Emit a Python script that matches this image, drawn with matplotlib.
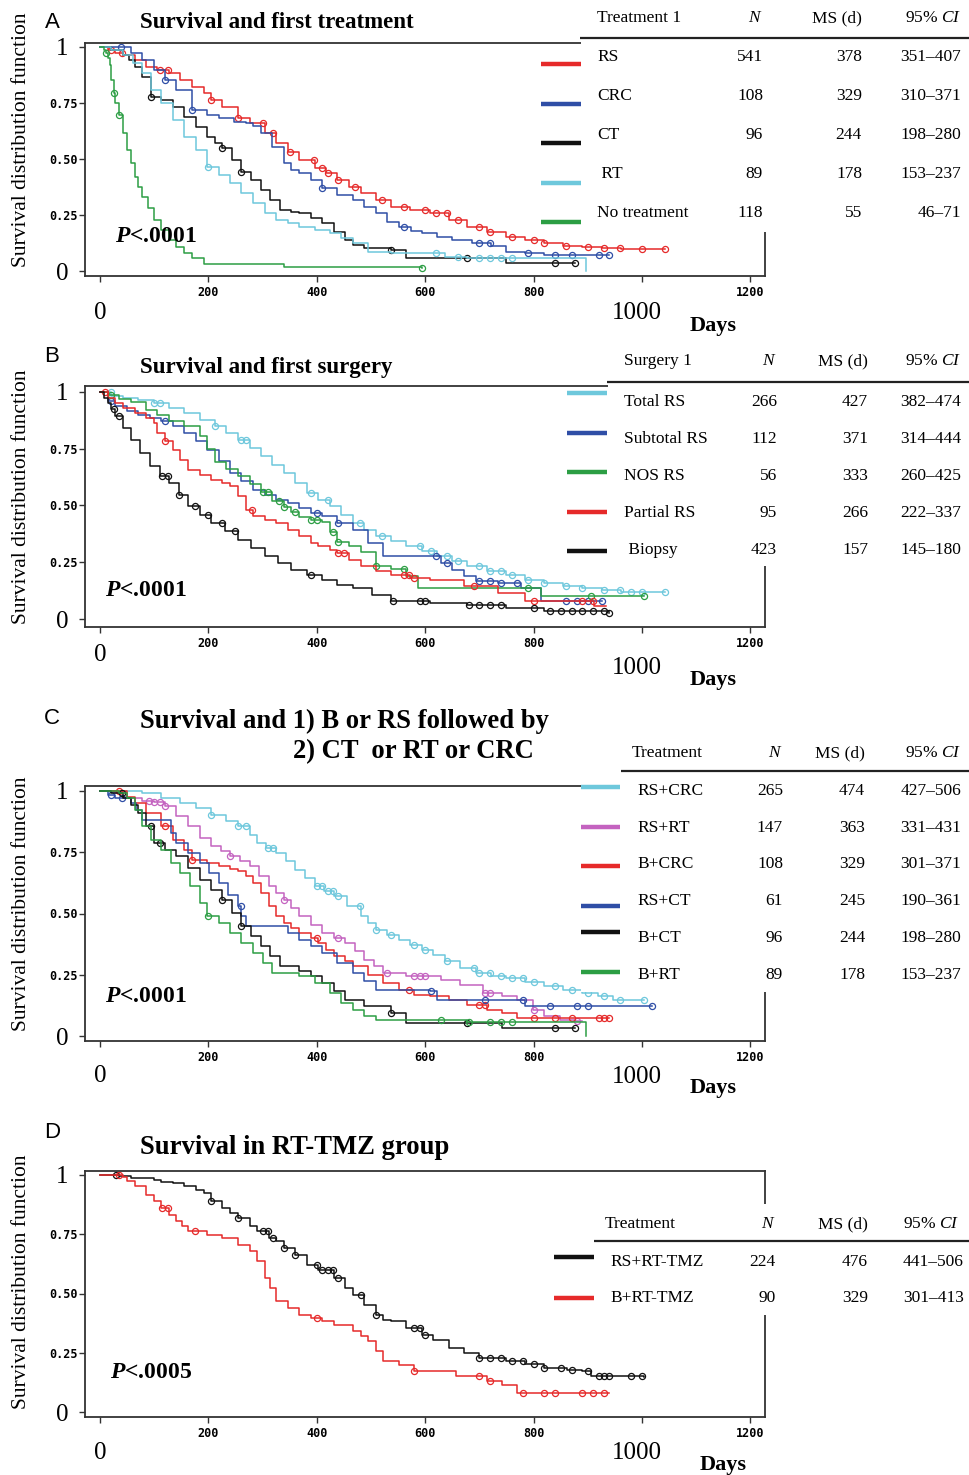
import numpy as np
import matplotlib
matplotlib.use("Agg")
import matplotlib.pyplot as plt
from matplotlib.patches import Rectangle
from matplotlib.lines import Line2D

plt.rcParams["mathtext.fontset"] = "custom"
plt.rcParams["mathtext.rm"] = "Liberation Serif"
plt.rcParams["mathtext.it"] = "Liberation Serif:italic"
plt.rcParams["mathtext.bf"] = "Liberation Serif:bold"
plt.rcParams["mathtext.sf"] = "Liberation Serif:bold:italic"

SERIF = "Liberation Serif"
SANS = "Liberation Sans"
MONO = "DejaVu Sans Mono"

RED = "#e62a2a"
BLUE = "#2f4ea6"
BLACK = "#111111"
CYAN = "#6ec8dc"
GREEN = "#2c9e44"
MAGENTA = "#c463c0"

# ------------------------------------------------------------------ data
X_TICKS = [0, 200, 400, 600, 800, 1000, 1200]
X_TICK_LABELS = ["", "200", "400", "600", "800", "", "1200"]
Y_TICKS = [0, 0.25, 0.5, 0.75, 1.0]
Y_TICK_LABELS = ["", "0.25", "0.50", "0.75", ""]

# ---- Panel A: survival and first treatment
a_rs_t = [0, 14, 28, 42, 64, 85, 106, 127, 148, 170, 191, 205, 226, 254, 276, 304, 325, 346, 367, 396,
          417, 438, 459, 481, 509, 537, 572, 608, 643, 678, 714, 749, 784, 820, 855, 890, 926, 961, 1042]
a_rs_s = [1.0, 0.988, 0.976, 0.966, 0.943, 0.914, 0.899, 0.884, 0.854, 0.824, 0.794, 0.765, 0.735, 0.683,
          0.661, 0.615, 0.571, 0.534, 0.496, 0.459, 0.437, 0.407, 0.377, 0.347, 0.317, 0.288, 0.273, 0.258,
          0.228, 0.198, 0.176, 0.153, 0.139, 0.124, 0.112, 0.106, 0.101, 0.10, 0.10]
a_rs_c = [20, 40, 110, 125, 205, 254, 300, 320, 350, 395, 410, 420, 440, 470, 520, 560, 600, 620, 640, 660,
          700, 720, 760, 800, 820, 860, 900, 930, 960, 1000, 1042]

a_crc_t = [0, 45, 57, 78, 99, 120, 141, 170, 198, 219, 247, 269, 283, 297, 318, 339, 353, 367, 389, 410,
           438, 466, 488, 509, 530, 551, 573, 594, 622, 650, 686, 721, 749, 784, 820, 940]
a_crc_s = [1.0, 1.0, 0.973, 0.943, 0.899, 0.854, 0.809, 0.72, 0.698, 0.683, 0.668, 0.661, 0.646, 0.615,
           0.556, 0.481, 0.452, 0.437, 0.407, 0.37, 0.34, 0.317, 0.288, 0.258, 0.221, 0.198, 0.18, 0.168,
           0.153, 0.139, 0.124, 0.112, 0.086, 0.079, 0.072, 0.072]
a_crc_c = [39, 120, 170, 410, 560, 700, 720, 790, 840, 870, 920, 940]

a_ct_t = [0, 21, 42, 53, 64, 78, 95, 113, 134, 155, 177, 198, 212, 226, 244, 261, 279, 297, 314, 332, 353,
          367, 389, 410, 431, 452, 466, 488, 537, 565, 678, 749, 876]
a_ct_s = [1.0, 0.988, 0.966, 0.943, 0.914, 0.869, 0.78, 0.765, 0.735, 0.69, 0.645, 0.60, 0.571, 0.548,
          0.496, 0.444, 0.407, 0.362, 0.318, 0.273, 0.265, 0.258, 0.236, 0.213, 0.176, 0.139, 0.116, 0.101,
          0.094, 0.057, 0.057, 0.037, 0.037]
a_ct_c = [95, 226, 261, 537, 678, 840, 876]

a_rt_t = [0, 21, 42, 60, 78, 95, 113, 134, 155, 177, 198, 219, 240, 261, 283, 304, 325, 346, 367, 396, 424,
          445, 466, 495, 537, 608, 636, 678, 897, 897]
a_rt_s = [1.0, 0.988, 0.966, 0.928, 0.884, 0.81, 0.75, 0.676, 0.60, 0.541, 0.466, 0.429, 0.392, 0.347,
          0.303, 0.258, 0.228, 0.213, 0.198, 0.183, 0.168, 0.146, 0.124, 0.086, 0.082, 0.079, 0.064, 0.057,
          0.057, 0.0]
a_rt_c = [200, 620, 660, 700, 720, 740, 760]

a_none_t = [0, 7, 11, 14, 18, 21, 25, 28, 35, 42, 49, 57, 64, 71, 78, 88, 99, 113, 127, 141, 155, 170, 191,
            339, 594]
a_none_s = [1.0, 0.988, 0.973, 0.951, 0.922, 0.855, 0.795, 0.75, 0.698, 0.616, 0.541, 0.482, 0.422, 0.377,
            0.333, 0.28, 0.228, 0.183, 0.139, 0.109, 0.079, 0.057, 0.031, 0.019, 0.012]
a_none_c = [11, 25, 35, 594]

a_header = "Treatment 1"
a_labels = ["RS", "CRC", "CT", " RT", "No treatment"]
a_n = ["541", "108", "96", "89", "118"]
a_ms = ["378", "329", "244", "178", "55"]
a_ci = ["351\u2013407", "310\u2013371", "198\u2013280", "153\u2013237", "46\u201371"]
a_pval = ".0001"

# ---- Panel B: survival and first surgery
b_tot_t = [0, 21, 42, 71, 99, 127, 155, 184, 212, 233, 254, 276, 297, 318, 339, 360, 382, 403, 424, 445,
           466, 488, 509, 537, 565, 594, 622, 650, 678, 714, 749, 784, 820, 855, 890, 926, 961, 1042]
b_tot_s = [1.0, 0.981, 0.974, 0.966, 0.952, 0.930, 0.907, 0.877, 0.849, 0.819, 0.79, 0.753, 0.717, 0.68,
           0.643, 0.599, 0.555, 0.526, 0.496, 0.46, 0.423, 0.394, 0.364, 0.342, 0.32, 0.298, 0.276, 0.254,
           0.232, 0.21, 0.195, 0.173, 0.159, 0.147, 0.137, 0.126, 0.117, 0.117]
b_tot_c = [20, 100, 110, 212, 261, 269, 390, 420, 480, 520, 590, 610, 640, 660, 700, 720, 740, 760, 790,
           820, 860, 890, 930, 960, 980, 1000, 1042]

b_sub_t = [0, 14, 28, 49, 71, 92, 113, 134, 155, 177, 198, 219, 240, 261, 283, 304, 325, 346, 367, 389,
           410, 438, 466, 495, 523, 608, 629, 650, 671, 693, 735, 777, 813, 926]
b_sub_s = [1.0, 0.959, 0.937, 0.915, 0.90, 0.885, 0.871, 0.849, 0.819, 0.782, 0.746, 0.694, 0.643, 0.606,
           0.57, 0.548, 0.526, 0.511, 0.489, 0.467, 0.452, 0.423, 0.394, 0.335, 0.276, 0.276, 0.247, 0.217,
           0.188, 0.166, 0.159, 0.137, 0.078, 0.078]
b_sub_c = [20, 120, 400, 440, 620, 640, 700, 720, 740, 770, 860, 880, 900, 926]

b_nos_t = [0, 14, 35, 57, 85, 106, 127, 155, 184, 198, 212, 233, 254, 276, 297, 318, 339, 353, 367, 389,
           410, 424, 438, 459, 481, 509, 537, 565, 587, 813, 1003]
b_nos_s = [1.0, 0.985, 0.971, 0.956, 0.919, 0.897, 0.874, 0.852, 0.808, 0.749, 0.69, 0.661, 0.631, 0.595,
           0.558, 0.521, 0.492, 0.47, 0.448, 0.437, 0.426, 0.382, 0.338, 0.323, 0.294, 0.235, 0.22, 0.191,
           0.137, 0.10, 0.10]
b_nos_c = [20, 300, 310, 330, 340, 360, 390, 400, 430, 440, 510, 560, 790, 905, 1003]

b_par_t = [0, 14, 28, 42, 64, 85, 99, 106, 120, 134, 148, 163, 184, 205, 226, 240, 254, 269, 283, 304, 325,
           346, 367, 389, 403, 424, 438, 459, 481, 509, 537, 572, 608, 671, 735, 784, 912, 933]
b_par_s = [1.0, 0.974, 0.952, 0.93, 0.907, 0.885, 0.863, 0.819, 0.782, 0.746, 0.702, 0.658, 0.636, 0.614,
           0.599, 0.584, 0.540, 0.482, 0.452, 0.438, 0.423, 0.394, 0.364, 0.335, 0.32, 0.305, 0.29, 0.261,
           0.232, 0.21, 0.195, 0.181, 0.173, 0.144, 0.115, 0.078, 0.056, 0.056]
b_par_c = [10, 120, 280, 440, 450, 560, 570, 580, 690, 800, 890, 910]

b_bio_t = [0, 7, 14, 21, 28, 42, 57, 74, 92, 110, 127, 145, 163, 184, 205, 230, 254, 279, 304, 329, 353,
           382, 410, 438, 466, 502, 537, 608, 678, 749, 820, 940]
b_bio_s = [1.0, 0.974, 0.952, 0.923, 0.893, 0.842, 0.79, 0.731, 0.673, 0.629, 0.599, 0.548, 0.496, 0.46,
           0.423, 0.386, 0.349, 0.313, 0.276, 0.247, 0.217, 0.195, 0.173, 0.151, 0.137, 0.107, 0.078, 0.07,
           0.063, 0.048, 0.034, 0.026]
b_bio_c = [25, 35, 115, 125, 145, 175, 200, 225, 250, 390, 540, 590, 600, 680, 700, 720, 740, 800, 830,
           850, 870, 890, 910, 930, 940]

b_header = "Surgery 1"
b_labels = ["Total RS", "Subtotal RS", "NOS RS", "Partial RS", " Biopsy"]
b_n = ["266", "112", "56", "95", "423"]
b_ms = ["427", "371", "333", "266", "157"]
b_ci = ["382\u2013474", "314\u2013444", "260\u2013425", "222\u2013337", "145\u2013180"]
b_pval = ".0001"

# ---- Panel C: B or RS followed by CT / RT / CRC
c_rscrc_t = [0, 42, 78, 113, 148, 177, 205, 233, 254, 276, 290, 307, 325, 343, 360, 378, 396, 413, 431,
             456, 481, 495, 509, 530, 551, 572, 594, 615, 636, 664, 693, 721, 749, 784, 820, 855, 890, 919,
             947, 1003]
c_rscrc_s = [1.0, 0.999, 0.992, 0.971, 0.951, 0.931, 0.903, 0.876, 0.856, 0.822, 0.788, 0.767, 0.747,
             0.713, 0.679, 0.645, 0.611, 0.59, 0.57, 0.529, 0.488, 0.461, 0.434, 0.414, 0.393, 0.373, 0.352,
             0.332, 0.305, 0.278, 0.257, 0.246, 0.237, 0.219, 0.203, 0.189, 0.176, 0.162, 0.148, 0.148]
c_rscrc_c = [205, 254, 270, 310, 320, 400, 410, 420, 430, 440, 480, 509, 537, 580, 600, 640, 690, 700,
             720, 740, 760, 780, 800, 840, 870, 900, 930, 960, 1003]

c_rsrt_t = [0, 28, 49, 78, 99, 120, 141, 163, 184, 205, 223, 240, 258, 276, 293, 311, 325, 339, 353, 367,
            389, 410, 431, 452, 470, 488, 505, 523, 565, 629, 664, 707, 742, 770, 798, 820, 848, 876, 890]
c_rsrt_s = [1.0, 0.992, 0.971, 0.961, 0.957, 0.937, 0.897, 0.856, 0.808, 0.774, 0.754, 0.733, 0.713,
            0.693, 0.652, 0.611, 0.584, 0.556, 0.522, 0.488, 0.454, 0.42, 0.4, 0.38, 0.346, 0.312, 0.284,
            0.257, 0.246, 0.23, 0.209, 0.176, 0.162, 0.148, 0.107, 0.08, 0.067, 0.06, 0.06]
c_rsrt_c = [90, 100, 110, 120, 240, 340, 440, 530, 580, 590, 600, 710, 720, 800, 880]

c_bcrc_t = [0, 35, 49, 64, 85, 113, 134, 155, 170, 198, 219, 240, 254, 269, 283, 297, 311, 325, 339, 353,
            367, 389, 403, 417, 431, 452, 466, 495, 523, 551, 580, 608, 643, 678, 714, 742, 770, 940]
c_bcrc_s = [1.0, 1.0, 0.976, 0.95, 0.91, 0.856, 0.801, 0.761, 0.72, 0.707, 0.693, 0.682, 0.672, 0.652,
            0.624, 0.584, 0.529, 0.488, 0.461, 0.441, 0.42, 0.4, 0.38, 0.352, 0.325, 0.305, 0.284, 0.25,
            0.216, 0.189, 0.169, 0.162, 0.148, 0.128, 0.107, 0.094, 0.073, 0.073]
c_bcrc_c = [35, 120, 170, 400, 570, 700, 710, 800, 840, 870, 920, 930, 940]

c_rsct_t = [0, 14, 28, 57, 67, 78, 124, 131, 141, 163, 184, 201, 219, 237, 254, 261, 269, 325, 346, 367,
            389, 410, 438, 466, 488, 509, 608, 622, 777, 784, 1018]
c_rsct_s = [1.0, 0.982, 0.97, 0.95, 0.923, 0.883, 0.883, 0.829, 0.788, 0.748, 0.707, 0.667, 0.624, 0.577,
            0.529, 0.488, 0.448, 0.448, 0.42, 0.393, 0.366, 0.339, 0.299, 0.257, 0.223, 0.189, 0.182, 0.148,
            0.148, 0.121, 0.121]
c_rsct_c = [20, 40, 260, 610, 710, 780, 830, 880, 900, 1018]

c_bct_t = [0, 21, 42, 57, 71, 85, 99, 120, 141, 163, 184, 205, 226, 244, 261, 279, 297, 314, 332, 367, 389,
           410, 431, 452, 488, 537, 565, 678, 742, 876]
c_bct_s = [1.0, 0.99, 0.971, 0.944, 0.91, 0.856, 0.788, 0.761, 0.733, 0.686, 0.638, 0.597, 0.556, 0.502,
           0.448, 0.407, 0.366, 0.325, 0.284, 0.264, 0.244, 0.216, 0.182, 0.148, 0.121, 0.094, 0.053, 0.053,
           0.033, 0.033]
c_bct_c = [40, 95, 110, 226, 261, 537, 678, 840, 876]

c_brt_t = [0, 35, 49, 64, 78, 95, 113, 131, 148, 166, 184, 198, 219, 240, 261, 283, 300, 318, 367, 396,
           424, 445, 466, 488, 509, 594, 636, 678, 897, 897]
c_brt_s = [1.0, 0.99, 0.971, 0.924, 0.856, 0.801, 0.761, 0.707, 0.665, 0.611, 0.544, 0.488, 0.461, 0.42,
           0.38, 0.339, 0.298, 0.257, 0.244, 0.216, 0.176, 0.135, 0.107, 0.08, 0.067, 0.067, 0.064, 0.056,
           0.056, 0.0]
c_brt_c = [200, 630, 680, 720, 740, 760]

c_header = "Treatment"
c_labels = ["RS+CRC", "RS+RT", "B+CRC", "RS+CT", "B+CT", "B+RT"]
c_n = ["265", "147", "108", "61", "96", "89"]
c_ms = ["474", "363", "329", "245", "244", "178"]
c_ci = ["427\u2013506", "331\u2013431", "301\u2013371", "190\u2013361", "198\u2013280", "153\u2013237"]
c_pval = ".0001"

# ---- Panel D: RT-TMZ group
d_rs_t = [0, 35, 57, 78, 99, 113, 134, 155, 177, 191, 205, 226, 240, 254, 276, 290, 311, 325, 339, 360,
          382, 403, 431, 452, 466, 488, 509, 523, 537, 565, 594, 615, 643, 671, 700, 749, 784, 820, 862, 890,
          905, 1003]
d_rs_s = [1.0, 0.997, 0.989, 0.986, 0.979, 0.972, 0.966, 0.952, 0.938, 0.924, 0.889, 0.861, 0.84, 0.819,
          0.783, 0.762, 0.734, 0.72, 0.692, 0.664, 0.622, 0.6, 0.565, 0.523, 0.495, 0.453, 0.411, 0.39,
          0.383, 0.354, 0.326, 0.305, 0.27, 0.249, 0.228, 0.214, 0.203, 0.186, 0.179, 0.172, 0.15, 0.146]
d_rs_c = [30, 205, 254, 300, 310, 320, 340, 360, 400, 410, 420, 430, 440, 481, 509, 580, 590, 600, 700,
          720, 740, 760, 780, 800, 820, 850, 870, 900, 920, 930, 940, 980, 1000]

d_b_t = [0, 35, 42, 49, 64, 85, 99, 113, 127, 141, 152, 163, 198, 226, 254, 276, 290, 304, 314, 325, 346,
         367, 389, 410, 431, 466, 481, 495, 509, 523, 551, 580, 657, 714, 742, 770, 940]
d_b_s = [1.0, 1.0, 0.993, 0.973, 0.952, 0.917, 0.889, 0.861, 0.833, 0.804, 0.783, 0.762, 0.748, 0.734,
         0.706, 0.678, 0.636, 0.565, 0.523, 0.467, 0.439, 0.411, 0.397, 0.383, 0.369, 0.34, 0.319, 0.298,
         0.256, 0.214, 0.2, 0.172, 0.15, 0.129, 0.115, 0.08, 0.08]
d_b_c = [35, 115, 125, 175, 400, 580, 700, 720, 780, 820, 840, 890, 910, 930]

d_header = "Treatment"
d_labels = ["RS+RT-TMZ", "B+RT-TMZ"]
d_n = ["224", "90"]
d_ms = ["476", "329"]
d_ci = ["441\u2013506", "301\u2013413"]
d_pval = ".0005"

# ------------------------------------------------------------------ figure
W, H = 970, 1475
fig = plt.figure(figsize=(W / 100, H / 100), dpi=100)

X0PX, X1000PX = 100, 642
AX_L, AX_R = 85, 765


def ftext(x, y, s, **kw):
    kw.setdefault("zorder", 10)
    return fig.text(x / W, 1 - y / H, s, **kw)


def fline(x1, x2, y, lw, color):
    fig.add_artist(Line2D([x1 / W, x2 / W], [1 - y / H, 1 - y / H], transform=fig.transFigure,
                          lw=lw, color=color, zorder=10, solid_capstyle="butt"))


def fwhite(x1, y1, x2, y2):
    fig.add_artist(Rectangle((x1 / W, 1 - y2 / H), (x2 - x1) / W, (y2 - y1) / H,
                             transform=fig.transFigure, facecolor="white", edgecolor="none", zorder=5))


def draw_panel(lay, curves, table):
    top, bot, y1px, y0px = lay["ax"]
    ax = fig.add_axes([AX_L / W, 1 - bot / H, (AX_R - AX_L) / W, (bot - top) / H])
    sx = (X1000PX - X0PX) / 1000.0
    ax.set_xlim(-(X0PX - AX_L) / sx, (AX_R - X0PX) / sx)
    sy = y0px - y1px
    ax.set_ylim(-(bot - y0px) / sy, 1 + (y1px - top) / sy)
    for t, s, cens, color in curves:
        t = np.asarray(t, float)
        s = np.asarray(s, float)
        ax.plot(t, s, drawstyle="steps-post", color=color, lw=1.1)
        idx = np.searchsorted(t, cens, side="right") - 1
        idx = np.clip(idx, 0, len(s) - 1)
        ax.plot(cens, s[idx], ls="none", marker="o", ms=4.4, mfc="none", mec=color, mew=0.9)
    ax.set_xticks(X_TICKS)
    ax.set_xticklabels(X_TICK_LABELS)
    ax.set_yticks(Y_TICKS)
    ax.set_yticklabels(Y_TICK_LABELS)
    ax.tick_params(direction="out", length=4, width=1, labelsize=8.5, color="#333333")
    ax.tick_params(axis="x", pad=3.5)
    ax.tick_params(axis="y", pad=1.5)
    for lab in ax.get_xticklabels() + ax.get_yticklabels():
        lab.set_fontfamily(MONO)
        lab.set_fontweight("bold")
    for sp in ax.spines.values():
        sp.set_linewidth(1.3)
        sp.set_color("#333333")

    # big axis numbers
    ftext(62, y1px + 2, "1", ha="center", va="center", fontsize=18, family=SERIF)
    ftext(62, y0px + 3, "0", ha="center", va="center", fontsize=18, family=SERIF)
    ftext(X0PX, lay["big0y"], "0", ha="center", va="center", fontsize=18, family=SERIF)
    ftext(637, lay["big1000y"], "1000", ha="center", va="center", fontsize=18, family=SERIF)
    ftext(lay["days"][0], lay["days"][1], "Days", ha="left", va="center", fontsize=16,
          family=SERIF, weight="bold")
    ftext(22, lay["ylab"], "Survival distribution function", rotation=90, ha="center", va="center",
          fontsize=15.5, family=SERIF)
    ftext(52, lay["letter"][1], lay["letter"][0], ha="center", va="center", fontsize=16, family=SANS)
    for tx, ty, ts in lay["titles"]:
        ftext(tx, ty, ts, ha="left", va="center", fontsize=lay["tsize"], family=SERIF, weight="bold")
    ftext(lay["pv"][0], lay["pv"][1], r"$\mathsf{P}$<" + lay["pv"][2], ha="left", va="center",
          fontsize=17, family=SERIF, weight="bold")

    # table
    wx1, wy1, wx2, wy2 = table["white"]
    fwhite(wx1, wy1, wx2, wy2)
    fs = 12.5
    hy = table["header_y"]
    ftext(table["hx"], hy, table["header"], ha="left", va="center", fontsize=fs, family=SERIF)
    ftext(table["ncol"], hy, r"$\mathit{N}$", ha="right", va="center", fontsize=fs, family=SERIF)
    ftext(table["mscol"], hy, "MS (d)", ha="right", va="center", fontsize=fs, family=SERIF)
    ftext(table["cicol"], hy, r"95% $\mathit{CI}$", ha="right", va="center", fontsize=fs, family=SERIF)
    fline(table["hline"][0], W, table["hline"][1], 1.6, "#222222")
    for i, lbl in enumerate(table["labels"]):
        ry = table["rows_y"][i]
        ftext(table["lx"], ry, lbl, ha="left", va="center", fontsize=fs, family=SERIF)
        ftext(table["ncol"], ry, table["n"][i], ha="right", va="center", fontsize=fs, family=SERIF)
        ftext(table["mscol"], ry, table["ms"][i], ha="right", va="center", fontsize=fs, family=SERIF)
        ftext(table["civcol"], ry, table["ci"][i], ha="right", va="center", fontsize=fs, family=SERIF)
        fline(table["bar_x"][0], table["bar_x"][1], table["bar_y"][i], 3.2, table["colors"][i])
    return ax


# Panel A
draw_panel(
    dict(ax=(43, 276, 47.3, 271), letter=("A", 22), titles=[(140, 22, "Survival and first treatment")],
         tsize=16.5, pv=(115, 236, a_pval), ylab=140, big0y=313, big1000y=313, days=(690, 326)),
    [(a_rs_t, a_rs_s, a_rs_c, RED), (a_crc_t, a_crc_s, a_crc_c, BLUE), (a_ct_t, a_ct_s, a_ct_c, BLACK),
     (a_rt_t, a_rt_s, a_rt_c, CYAN), (a_none_t, a_none_s, a_none_c, GREEN)],
    dict(white=(581, 40, 775, 232), header=a_header, header_y=18, hx=597, lx=597, ncol=763, mscol=862,
         cicol=961, civcol=961, hline=(580, 38), rows_y=[57, 96, 135, 174, 213], bar_x=(541, 581),
         bar_y=[64, 104, 143, 183, 222], labels=a_labels, n=a_n, ms=a_ms, ci=a_ci,
         colors=[RED, BLUE, BLACK, CYAN, GREEN]),
)

# Panel B
draw_panel(
    dict(ax=(386, 627, 392, 619), letter=("B", 357), titles=[(140, 367, "Survival and first surgery")],
         tsize=16.5, pv=(105, 590, b_pval), ylab=497, big0y=655, big1000y=668, days=(690, 680)),
    [(b_tot_t, b_tot_s, b_tot_c, CYAN), (b_sub_t, b_sub_s, b_sub_c, BLUE), (b_nos_t, b_nos_s, b_nos_c, GREEN),
     (b_par_t, b_par_s, b_par_c, RED), (b_bio_t, b_bio_s, b_bio_c, BLACK)],
    dict(white=(608, 383, 775, 566), header=b_header, header_y=361, hx=624, lx=624, ncol=777, mscol=868,
         cicol=961, civcol=961, hline=(607, 382), rows_y=[402, 439, 476, 513, 550], bar_x=(567, 607),
         bar_y=[393, 433, 472, 512, 551], labels=b_labels, n=b_n, ms=b_ms, ci=b_ci,
         colors=[CYAN, BLUE, GREEN, RED, BLACK]),
)

# Panel C
draw_panel(
    dict(ax=(786, 1041, 791, 1036), letter=("C", 718),
         titles=[(140, 721, "Survival and 1) B or RS followed by"), (293, 752, "2) CT  or RT or CRC")],
         tsize=19.2, pv=(105, 997, c_pval), ylab=904, big0y=1076, big1000y=1077, days=(690, 1088)),
    [(c_rscrc_t, c_rscrc_s, c_rscrc_c, CYAN), (c_rsrt_t, c_rsrt_s, c_rsrt_c, MAGENTA),
     (c_bcrc_t, c_bcrc_s, c_bcrc_c, RED), (c_rsct_t, c_rsct_s, c_rsct_c, BLUE),
     (c_bct_t, c_bct_s, c_bct_c, BLACK), (c_brt_t, c_brt_s, c_brt_c, GREEN)],
    dict(white=(581, 783, 775, 992), header=c_header, header_y=753, hx=632, lx=637, ncol=783, mscol=865,
         cicol=961, civcol=961, hline=(621, 771), rows_y=[791, 828, 864, 901, 938, 975], bar_x=(581, 620),
         bar_y=[787, 827, 866, 906, 932, 972], labels=c_labels, n=c_n, ms=c_ms, ci=c_ci,
         colors=[CYAN, MAGENTA, RED, BLUE, BLACK, GREEN]),
)

# Panel D
draw_panel(
    dict(ax=(1171, 1417, 1175, 1412), letter=("D", 1133), titles=[(140, 1147, "Survival in RT-TMZ group")],
         tsize=19.2, pv=(110, 1373, d_pval), ylab=1282, big0y=1453, big1000y=1453, days=(700, 1465)),
    [(d_rs_t, d_rs_s, d_rs_c, BLACK), (d_b_t, d_b_s, d_b_c, RED)],
    dict(white=(550, 1204, 775, 1315), header=d_header, header_y=1224, hx=605, lx=610, ncol=776, mscol=868,
         cicol=959, civcol=964, hline=(594, 1241), rows_y=[1262, 1298], bar_x=(554, 594),
         bar_y=[1257, 1298], labels=d_labels, n=d_n, ms=d_ms, ci=d_ci, colors=[BLACK, RED]),
)

fig.savefig("out.png", dpi=100, facecolor="white")
